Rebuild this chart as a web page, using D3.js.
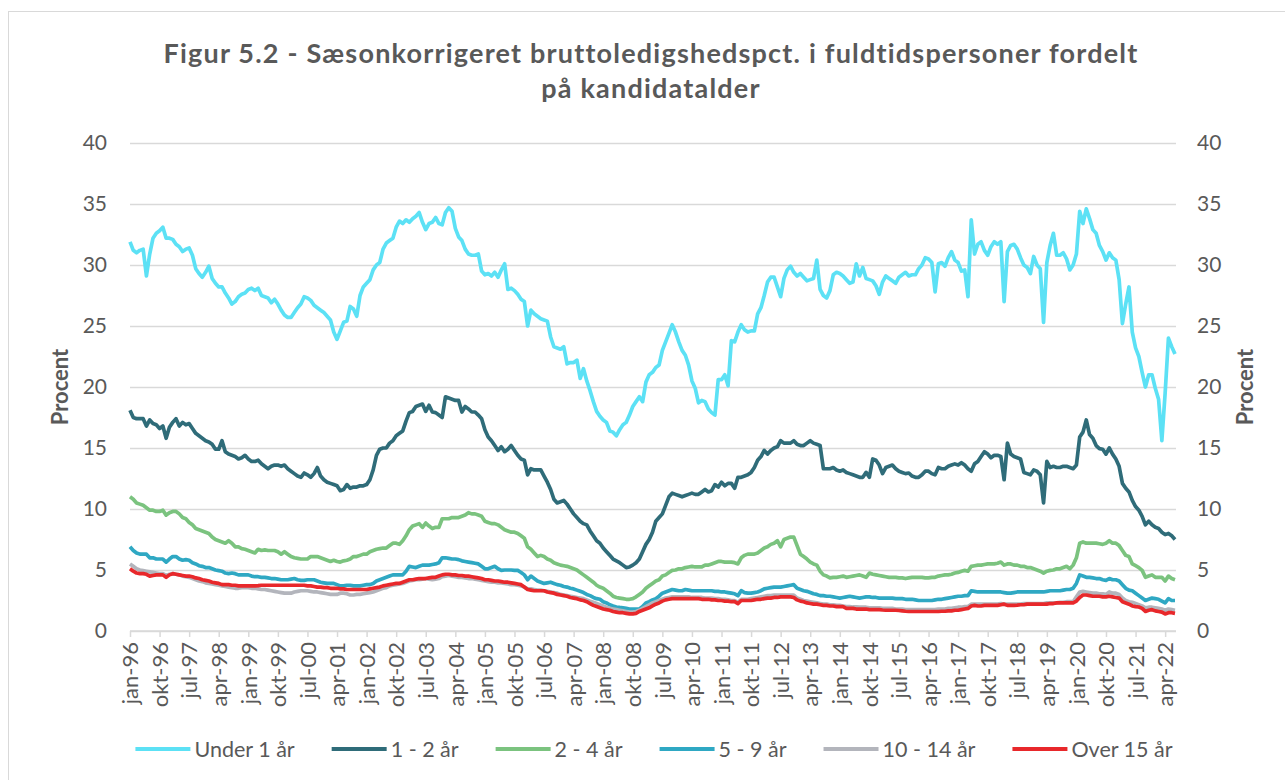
<!DOCTYPE html>
<html>
<head>
<meta charset="utf-8">
<script src="https://cdn.jsdelivr.net/npm/d3@7"></script>
<style>
body { margin: 0; background: #fff; }
text { font-family: Lato, "Open Sans", sans-serif; fill: #595959; }
</style>
</head>
<body>
<svg id="chart" width="1285" height="780"></svg>
<script>
// kategorier: maaneder fra jan-96
var startYear = 1996;
var monthNames = ["jan","feb","mar","apr","maj","jun","jul","aug","sep","okt","nov","dec"];
var seriesNames = ["Under 1 år", "1 - 2 år", "2 - 4 år", "5 - 9 år", "10 - 14 år", "Over 15 år"];
var seriesColors = ["#5ce1f5", "#2f6c79", "#7bc37f", "#2fa8c3", "#b3b5bc", "#e8282b"];
var yTicks = [0, 5, 10, 15, 20, 25, 30, 35, 40];

// bruttoledighed i pct, en raekke pr aar
var under1 = [
  31.9,31.2,31.0,31.2,31.3,29.1,30.9,32.2,32.6,32.8,33.1,32.2,
  32.2,32.1,31.7,31.5,31.1,31.3,31.4,30.8,29.7,29.3,29.0,29.4,
  29.9,28.9,28.5,28.2,28.2,27.7,27.3,26.8,27.0,27.4,27.6,27.7,
  28.0,28.1,27.9,28.1,27.5,27.4,27.3,26.9,27.2,26.8,26.3,25.9,
  25.7,25.7,26.1,26.5,26.8,27.4,27.3,27.1,26.7,26.5,26.3,26.1,
  25.8,25.5,24.5,23.9,24.6,25.3,25.4,26.6,26.4,25.8,27.5,28.2,
  28.5,28.8,29.6,30.0,30.2,31.3,31.8,32.0,32.2,33.1,33.6,33.4,
  33.7,33.5,33.8,34.0,34.3,33.5,32.9,33.4,33.5,33.9,33.4,33.3,
  34.3,34.7,34.4,33.0,32.3,32.0,31.3,30.9,30.8,30.8,30.9,29.5,
  29.2,29.3,29.1,29.4,29.0,29.6,30.1,28.0,28.1,27.9,27.6,27.2,
  27.0,25.0,26.3,26.0,25.8,25.6,25.5,25.4,24.1,23.3,23.2,23.1,
  23.3,21.9,22.0,22.0,22.2,20.7,21.5,20.5,19.7,18.8,18.0,17.6,
  17.3,17.1,16.4,16.3,16.0,16.5,16.9,17.1,17.7,18.4,18.8,19.2,
  18.8,20.4,21.0,21.2,21.6,21.8,23.0,23.7,24.4,25.1,24.5,23.7,
  23.0,22.6,21.8,20.5,19.9,18.7,18.9,18.8,18.2,17.9,17.7,20.6,
  20.6,21.0,20.1,23.8,23.7,24.5,25.1,24.7,24.5,24.6,24.6,26.0,
  26.5,27.5,28.6,29.0,29.0,28.2,27.4,28.9,29.6,29.9,29.4,29.1,
  29.3,29.0,28.7,28.8,28.9,30.4,28.0,27.5,27.3,27.9,29.2,29.4,
  29.3,29.1,28.8,28.5,28.6,30.1,29.1,29.8,28.9,28.8,28.7,28.3,
  27.6,28.6,29.1,28.9,28.7,28.5,29.0,29.2,29.4,29.1,29.2,29.2,
  29.7,30.0,30.6,30.5,30.2,27.8,30.1,30.2,29.9,30.6,31.1,30.4,
  30.2,29.5,29.6,27.4,33.7,30.9,31.7,31.9,31.2,30.8,31.5,31.9,
  31.7,31.9,27.0,31.1,31.6,31.7,31.3,30.6,30.0,29.8,29.3,30.7,
  30.0,29.7,25.3,30.2,31.6,32.6,30.8,30.8,31.0,30.5,29.6,30.0,
  30.9,34.4,33.4,34.6,33.8,32.9,32.6,31.6,31.1,30.4,31.0,30.6,
  30.4,28.8,25.2,26.8,28.2,24.5,23.2,22.5,21.2,20.0,21.0,21.0,
  19.9,19.0,15.6,19.5,24.0,23.3,22.7
];
var aar1til2 = [
  18.1,17.5,17.4,17.4,17.4,16.8,17.3,17.0,16.9,16.6,16.8,15.8,
  16.7,17.1,17.4,16.8,17.1,16.9,17.0,16.6,16.2,16.0,15.8,15.6,
  15.5,15.3,14.9,14.9,15.6,14.7,14.5,14.4,14.3,14.1,14.2,14.4,
  14.1,13.9,13.9,14.0,13.7,13.5,13.3,13.5,13.6,13.6,13.5,13.6,
  13.3,13.1,12.9,12.7,12.6,12.95,12.8,12.6,12.9,13.4,12.7,12.4,
  12.2,12.1,12.0,11.9,11.5,11.6,12.0,11.7,11.8,11.8,11.9,11.9,
  12.0,12.4,13.2,14.4,14.9,15.0,15.0,15.4,15.6,16.0,16.2,16.4,
  17.2,17.9,18.0,18.4,18.5,18.6,18.0,18.5,17.95,17.9,17.7,17.5,
  19.2,19.1,19.0,18.9,18.9,17.95,18.4,18.2,17.95,17.95,17.7,17.4,
  16.5,15.9,15.6,15.2,14.8,15.1,14.7,14.9,15.2,14.8,14.4,14.1,
  14.0,12.8,13.3,13.2,13.2,13.2,12.7,12.2,11.6,10.8,10.5,10.6,
  10.7,10.4,10.0,9.6,9.3,9.0,8.8,8.7,8.2,7.8,7.4,7.2,
  6.8,6.5,6.2,5.9,5.75,5.6,5.4,5.2,5.25,5.4,5.6,5.9,
  6.5,7.1,7.5,8.1,9.0,9.3,9.6,10.3,11.0,11.3,11.2,11.1,
  11.0,11.1,11.2,11.3,11.2,11.2,11.4,11.6,11.4,11.5,12.0,11.8,
  12.2,11.9,12.1,12.1,11.7,12.6,12.6,12.7,12.8,13.0,13.4,14.0,
  14.3,14.8,14.5,14.8,15.0,15.1,15.6,15.4,15.4,15.4,15.6,15.3,
  15.2,15.2,15.4,15.6,15.4,15.3,15.2,13.3,13.3,13.3,13.4,13.2,
  13.1,13.2,13.0,12.9,12.8,12.7,12.6,12.6,13.0,12.6,14.1,14.0,
  13.6,12.9,13.4,13.5,13.6,13.3,13.1,13.0,12.9,12.95,12.7,12.6,
  12.6,12.8,13.1,13.1,12.9,12.8,13.4,13.3,13.3,13.5,13.6,13.7,
  13.6,13.8,13.6,13.3,13.1,13.7,13.9,14.3,14.7,14.5,14.2,14.4,
  14.4,14.3,12.4,15.4,14.5,14.3,14.2,14.1,13.0,12.9,12.8,13.2,
  13.1,12.8,10.5,13.9,13.4,13.5,13.4,13.4,13.5,13.5,13.4,13.3,
  13.6,15.9,16.3,17.3,16.1,15.8,15.2,14.95,14.9,14.5,15.0,14.5,
  14.1,13.5,12.1,11.7,11.4,10.7,10.2,9.9,9.4,8.7,9.0,8.7,
  8.5,8.4,8.1,7.9,8.0,7.8,7.5
];
var aar2til4 = [
  11.0,10.8,10.5,10.4,10.3,10.1,9.9,9.9,9.8,9.8,9.9,9.5,
  9.7,9.8,9.8,9.6,9.3,9.2,8.9,8.7,8.4,8.3,8.2,8.1,
  8.0,7.7,7.5,7.4,7.3,7.2,7.4,7.2,6.9,6.9,6.75,6.7,
  6.6,6.5,6.4,6.7,6.6,6.65,6.6,6.6,6.6,6.5,6.3,6.5,
  6.3,6.1,6.0,5.95,5.9,5.9,5.9,6.1,6.1,6.1,6.0,5.9,
  5.8,5.7,5.8,5.7,5.65,5.75,5.8,5.9,6.1,6.1,6.2,6.3,
  6.3,6.5,6.6,6.7,6.75,6.8,6.8,7.0,7.2,7.2,7.1,7.4,
  7.8,8.3,8.6,8.7,8.8,8.5,8.85,8.6,8.4,8.5,8.5,9.2,
  9.2,9.2,9.3,9.3,9.3,9.4,9.5,9.7,9.6,9.6,9.5,9.4,
  9.0,8.9,8.8,8.8,8.7,8.5,8.3,8.2,8.1,8.1,8.0,7.8,
  7.6,6.9,6.7,6.4,6.1,6.2,6.1,5.9,5.8,5.6,5.5,5.4,
  5.35,5.3,5.2,5.1,5.0,4.8,4.6,4.4,4.2,4.0,3.75,3.6,
  3.5,3.3,3.1,2.85,2.75,2.7,2.65,2.6,2.6,2.65,2.8,3.0,
  3.2,3.5,3.7,3.9,4.1,4.2,4.5,4.6,4.8,4.97,5.0,5.1,
  5.1,5.2,5.25,5.3,5.25,5.25,5.25,5.4,5.4,5.5,5.6,5.7,
  5.7,5.65,5.65,5.65,5.6,5.5,6.0,6.2,6.3,6.3,6.3,6.4,
  6.6,6.8,6.9,7.1,7.2,7.4,6.9,7.5,7.6,7.7,7.7,7.0,
  6.3,6.1,5.9,5.65,5.5,5.4,4.9,4.6,4.5,4.35,4.4,4.4,
  4.45,4.5,4.4,4.45,4.5,4.55,4.6,4.5,4.4,4.75,4.65,4.6,
  4.55,4.5,4.45,4.4,4.4,4.4,4.35,4.35,4.3,4.35,4.4,4.4,
  4.4,4.4,4.35,4.35,4.4,4.4,4.5,4.55,4.6,4.6,4.65,4.75,
  4.8,4.9,4.97,4.9,5.3,5.35,5.4,5.4,5.45,5.5,5.5,5.5,
  5.55,5.65,5.4,5.5,5.5,5.4,5.4,5.3,5.3,5.2,5.2,5.1,
  5.0,4.9,4.75,4.9,4.97,5.0,5.1,5.1,5.2,5.3,5.1,5.4,
  6.0,7.2,7.3,7.2,7.2,7.2,7.2,7.15,7.1,7.2,7.4,7.2,
  7.2,7.0,6.6,6.2,6.1,5.5,5.35,5.2,4.97,4.4,4.5,4.6,
  4.4,4.4,4.4,4.1,4.5,4.3,4.2
];
var aar5til9 = [
  6.9,6.6,6.4,6.3,6.3,6.3,6.0,6.0,5.9,5.9,5.9,5.65,
  5.9,6.1,6.1,5.9,5.8,5.85,5.8,5.6,5.5,5.35,5.3,5.2,
  5.2,5.1,5.0,4.95,4.9,4.75,4.7,4.75,4.7,4.6,4.6,4.6,
  4.6,4.5,4.45,4.45,4.4,4.4,4.35,4.3,4.3,4.25,4.2,4.2,
  4.2,4.25,4.3,4.2,4.15,4.15,4.2,4.2,4.2,4.1,4.0,3.95,
  3.9,3.9,3.9,3.8,3.7,3.7,3.75,3.75,3.7,3.7,3.7,3.75,
  3.8,3.8,3.9,4.1,4.2,4.3,4.4,4.5,4.6,4.6,4.6,4.6,
  4.9,5.3,5.25,5.2,5.3,5.4,5.4,5.4,5.45,5.5,5.6,6.0,
  6.0,5.95,5.9,5.9,5.85,5.75,5.7,5.65,5.6,5.55,5.5,5.3,
  5.1,5.1,5.2,5.3,5.1,4.97,5.0,5.0,5.0,4.97,4.97,4.8,
  4.6,4.2,4.5,4.3,4.1,4.0,3.9,3.95,4.0,3.9,3.8,3.75,
  3.65,3.6,3.5,3.45,3.35,3.25,3.15,3.0,2.9,2.75,2.65,2.6,
  2.4,2.3,2.15,2.05,1.97,1.93,1.9,1.85,1.8,1.8,1.8,1.8,
  2.0,2.3,2.4,2.55,2.65,2.85,3.1,3.2,3.3,3.4,3.35,3.3,
  3.3,3.4,3.35,3.3,3.3,3.3,3.3,3.3,3.3,3.3,3.25,3.25,
  3.2,3.2,3.15,3.1,3.05,2.9,3.3,3.15,3.1,3.1,3.15,3.2,
  3.3,3.45,3.5,3.55,3.6,3.6,3.6,3.65,3.7,3.75,3.8,3.5,
  3.4,3.3,3.25,3.15,3.05,3.0,2.9,2.9,2.85,2.85,2.8,2.75,
  2.7,2.75,2.8,2.85,2.8,2.75,2.7,2.75,2.8,2.8,2.75,2.75,
  2.7,2.7,2.7,2.7,2.7,2.65,2.65,2.65,2.6,2.6,2.6,2.55,
  2.5,2.5,2.5,2.5,2.5,2.55,2.6,2.6,2.65,2.7,2.75,2.8,
  2.85,2.85,2.9,2.9,3.3,3.25,3.2,3.2,3.2,3.2,3.2,3.2,
  3.2,3.2,3.15,3.1,3.1,3.15,3.2,3.2,3.2,3.2,3.2,3.2,
  3.2,3.2,3.2,3.25,3.3,3.3,3.3,3.3,3.35,3.4,3.4,3.5,
  3.9,4.6,4.5,4.4,4.4,4.35,4.3,4.3,4.2,4.15,4.3,4.2,
  4.2,4.1,3.8,3.5,3.35,3.3,3.1,2.9,2.7,2.5,2.6,2.7,
  2.65,2.6,2.45,2.3,2.65,2.5,2.5
];
var aar10til14 = [
  5.5,5.3,5.1,5.0,4.95,4.9,4.85,4.8,4.75,4.7,4.7,4.55,
  4.65,4.7,4.65,4.6,4.5,4.45,4.4,4.3,4.2,4.1,4.05,3.95,
  3.9,3.85,3.8,3.75,3.7,3.65,3.6,3.55,3.5,3.5,3.55,3.55,
  3.55,3.5,3.5,3.45,3.4,3.4,3.35,3.3,3.25,3.2,3.15,3.1,
  3.1,3.1,3.2,3.25,3.3,3.3,3.3,3.25,3.2,3.2,3.15,3.1,
  3.05,3.0,3.0,3.0,3.1,3.1,3.05,2.95,2.95,3.0,3.0,3.05,
  3.1,3.15,3.2,3.3,3.4,3.5,3.55,3.7,3.75,3.8,3.85,3.9,
  4.0,4.1,4.15,4.2,4.2,4.25,4.3,4.25,4.2,4.25,4.3,4.45,
  4.5,4.55,4.5,4.45,4.4,4.4,4.35,4.3,4.3,4.25,4.2,4.15,
  4.1,4.05,4.0,4.0,3.95,3.95,3.9,3.85,3.8,3.8,3.75,3.7,
  3.6,3.45,3.45,3.4,3.35,3.35,3.3,3.25,3.2,3.15,3.1,3.0,
  2.95,2.9,2.85,2.8,2.75,2.7,2.65,2.55,2.45,2.35,2.25,2.15,
  2.05,1.95,1.85,1.8,1.75,1.7,1.65,1.6,1.55,1.55,1.6,1.7,
  1.85,2.0,2.15,2.3,2.4,2.5,2.6,2.7,2.75,2.8,2.8,2.8,
  2.8,2.8,2.8,2.75,2.75,2.75,2.75,2.7,2.7,2.7,2.65,2.65,
  2.6,2.6,2.55,2.5,2.5,2.35,2.6,2.6,2.6,2.65,2.7,2.75,
  2.8,2.85,2.9,2.9,2.95,2.95,2.95,2.95,2.95,2.95,2.95,2.7,
  2.6,2.5,2.45,2.4,2.35,2.3,2.25,2.2,2.2,2.15,2.15,2.1,
  2.1,2.05,2.0,2.0,1.97,1.97,1.95,1.95,1.95,1.9,1.9,1.9,
  1.9,1.85,1.85,1.85,1.85,1.8,1.8,1.8,1.75,1.75,1.75,1.75,
  1.75,1.75,1.75,1.75,1.75,1.75,1.8,1.8,1.8,1.85,1.85,1.9,
  1.95,1.95,2.0,2.0,2.2,2.2,2.2,2.2,2.2,2.2,2.2,2.2,
  2.2,2.25,2.2,2.2,2.2,2.2,2.2,2.2,2.25,2.25,2.25,2.25,
  2.25,2.25,2.25,2.3,2.3,2.3,2.3,2.35,2.35,2.4,2.4,2.4,
  2.8,3.2,3.25,3.2,3.15,3.1,3.1,3.05,3.05,3.0,3.2,3.1,
  3.1,3.0,2.7,2.5,2.4,2.35,2.25,2.15,2.05,1.9,1.95,1.95,
  1.9,1.85,1.8,1.7,1.8,1.75,1.7
];
var over15 = [
  5.1,4.9,4.75,4.7,4.7,4.65,4.5,4.55,4.6,4.6,4.6,4.4,
  4.6,4.7,4.65,4.6,4.55,4.5,4.5,4.45,4.35,4.3,4.2,4.15,
  4.1,4.0,3.95,3.9,3.8,3.8,3.8,3.75,3.75,3.7,3.7,3.7,
  3.7,3.7,3.7,3.72,3.75,3.75,3.75,3.75,3.75,3.75,3.75,3.75,
  3.75,3.75,3.75,3.75,3.75,3.75,3.7,3.7,3.65,3.6,3.6,3.55,
  3.55,3.5,3.5,3.5,3.45,3.45,3.4,3.4,3.4,3.4,3.4,3.4,
  3.4,3.45,3.5,3.55,3.6,3.7,3.75,3.8,3.85,3.9,3.9,4.0,
  4.1,4.2,4.2,4.25,4.3,4.3,4.3,4.35,4.4,4.4,4.5,4.6,
  4.65,4.65,4.6,4.6,4.55,4.55,4.5,4.5,4.45,4.4,4.35,4.3,
  4.2,4.2,4.15,4.1,4.1,4.05,4.0,4.0,3.95,3.9,3.85,3.8,
  3.6,3.4,3.35,3.3,3.3,3.3,3.3,3.2,3.15,3.1,3.0,2.95,
  2.9,2.85,2.75,2.7,2.65,2.55,2.5,2.4,2.25,2.1,2.0,1.9,
  1.8,1.75,1.7,1.6,1.55,1.5,1.5,1.45,1.4,1.4,1.45,1.6,
  1.7,1.8,1.9,2.05,2.2,2.3,2.45,2.55,2.6,2.65,2.65,2.65,
  2.65,2.65,2.65,2.65,2.65,2.65,2.6,2.6,2.6,2.55,2.55,2.5,
  2.5,2.45,2.45,2.4,2.4,2.25,2.5,2.5,2.5,2.5,2.55,2.6,
  2.6,2.65,2.7,2.7,2.75,2.75,2.8,2.8,2.8,2.8,2.75,2.55,
  2.45,2.4,2.3,2.25,2.2,2.2,2.15,2.1,2.1,2.05,2.05,2.0,
  2.0,2.0,1.85,1.85,1.85,1.8,1.8,1.8,1.8,1.75,1.75,1.75,
  1.75,1.72,1.7,1.7,1.7,1.7,1.68,1.65,1.62,1.6,1.6,1.6,
  1.6,1.6,1.6,1.6,1.6,1.6,1.6,1.62,1.62,1.65,1.65,1.7,
  1.7,1.75,1.8,1.85,2.05,2.1,2.05,2.05,2.1,2.1,2.1,2.1,
  2.1,2.15,2.2,2.1,2.1,2.1,2.12,2.15,2.15,2.2,2.2,2.2,
  2.2,2.2,2.2,2.2,2.25,2.25,2.3,2.3,2.3,2.3,2.3,2.3,
  2.45,2.75,2.95,2.95,2.9,2.85,2.85,2.85,2.8,2.8,2.85,2.8,
  2.75,2.7,2.4,2.3,2.2,2.05,2.0,1.97,1.85,1.6,1.7,1.75,
  1.65,1.6,1.55,1.4,1.5,1.5,1.45
];
var allSeries = [under1, aar1til2, aar2til4, aar5til9, aar10til14, over15];

var months = under1.map(function (d, i) {
  return monthNames[i % 12] + "-" + String(startYear + Math.floor(i / 12)).slice(2);
});

var plotLeft = 130, plotRight = 1176, plotTop = 143, plotBottom = 631;
var svg = d3.select("#chart");

// ramme rundt om diagrammet
svg.append("rect").attr("x", 8.5).attr("y", 11.5).attr("width", 1300).attr("height", 800)
  .attr("fill", "none").attr("stroke", "#d9d9d9");

var x = d3.scalePoint().domain(months).range([plotLeft, 1175]);
var y = d3.scaleLinear().domain([0, 40]).range([plotBottom, plotTop]);

// titel
var title = svg.append("text").attr("text-anchor", "middle")
  .style("font-size", "27px").style("font-weight", "bold").style("letter-spacing", "1.2px");
title.append("tspan").attr("x", 651).attr("y", 63)
  .text("Figur 5.2 - Sæsonkorrigeret bruttoledigshedspct. i fuldtidspersoner fordelt");
title.append("tspan").attr("x", 651).attr("y", 98).text("på kandidatalder");

// gitterlinjer + venstre akse
var yLeft = svg.append("g").attr("transform", "translate(" + plotLeft + ",0)")
  .call(d3.axisLeft(y).tickValues(yTicks).tickSize(-(plotRight - plotLeft)).tickPadding(23));
yLeft.select(".domain").remove();
yLeft.selectAll("line").attr("stroke", "#d9d9d9").attr("stroke-width", 1.5);
yLeft.selectAll("text").style("font-size", "21px").style("font-family", "Lato").attr("fill", "#595959");

var yRight = svg.append("g").attr("transform", "translate(" + plotRight + ",0)")
  .call(d3.axisRight(y).tickValues(yTicks).tickSize(0).tickPadding(21));
yRight.select(".domain").remove();
yRight.selectAll("text").style("font-size", "21px").style("font-family", "Lato").attr("fill", "#595959");

// x-akse, etiket hver 9. maaned
var xAxis = svg.append("g").attr("transform", "translate(0," + plotBottom + ")")
  .call(d3.axisBottom(x).tickValues(months.filter(function (d, i) { return i % 9 === 0; }))
    .tickSize(6).tickSizeOuter(0));
xAxis.select(".domain").attr("stroke", "#d9d9d9").attr("stroke-width", 1.5).attr("d", "M" + plotLeft + ",0H" + plotRight);
xAxis.selectAll("line").attr("stroke", "#d9d9d9").attr("stroke-width", 1.5);
xAxis.selectAll("text")
  .attr("transform", "rotate(-90)").attr("x", -11).attr("y", 0).attr("dy", "0.35em")
  .style("text-anchor", "end").style("font-size", "22px").style("font-family", "Lato").attr("fill", "#595959");

// aksetitler
svg.append("text").attr("transform", "translate(68,387) rotate(-90)").attr("text-anchor", "middle")
  .style("font-size", "22px").style("font-weight", "bold").text("Procent");
svg.append("text").attr("transform", "translate(1253,387) rotate(-90)").attr("text-anchor", "middle")
  .style("font-size", "22px").style("font-weight", "bold").text("Procent");

// linjer
var line = d3.line()
  .x(function (d, i) { return x(months[i]); })
  .y(function (d) { return y(d); });

svg.append("g").selectAll("path").data(allSeries).enter().append("path")
  .attr("fill", "none")
  .attr("stroke", function (d, i) { return seriesColors[i]; })
  .attr("stroke-width", 3.7)
  .attr("stroke-linejoin", "round")
  .attr("d", line);

// forklaring
var legend = svg.append("g");
var items = legend.selectAll("g").data(seriesNames).enter().append("g");
items.append("line").attr("x1", 0).attr("x2", 55).attr("y1", 0).attr("y2", 0)
  .attr("stroke", function (d, i) { return seriesColors[i]; }).attr("stroke-width", 4);
items.append("text").attr("x", 59).attr("dy", "0.35em").style("font-size", "21.5px").text(function (d) { return d; });
var pos = 0;
items.each(function () {
  var g = d3.select(this);
  g.attr("transform", "translate(" + pos + ",0)");
  pos += 59 + g.select("text").node().getComputedTextLength() + 37;
});
var total = pos - 37;
legend.attr("transform", "translate(" + (654 - total / 2) + ",749)");
</script>
</body>
</html>
